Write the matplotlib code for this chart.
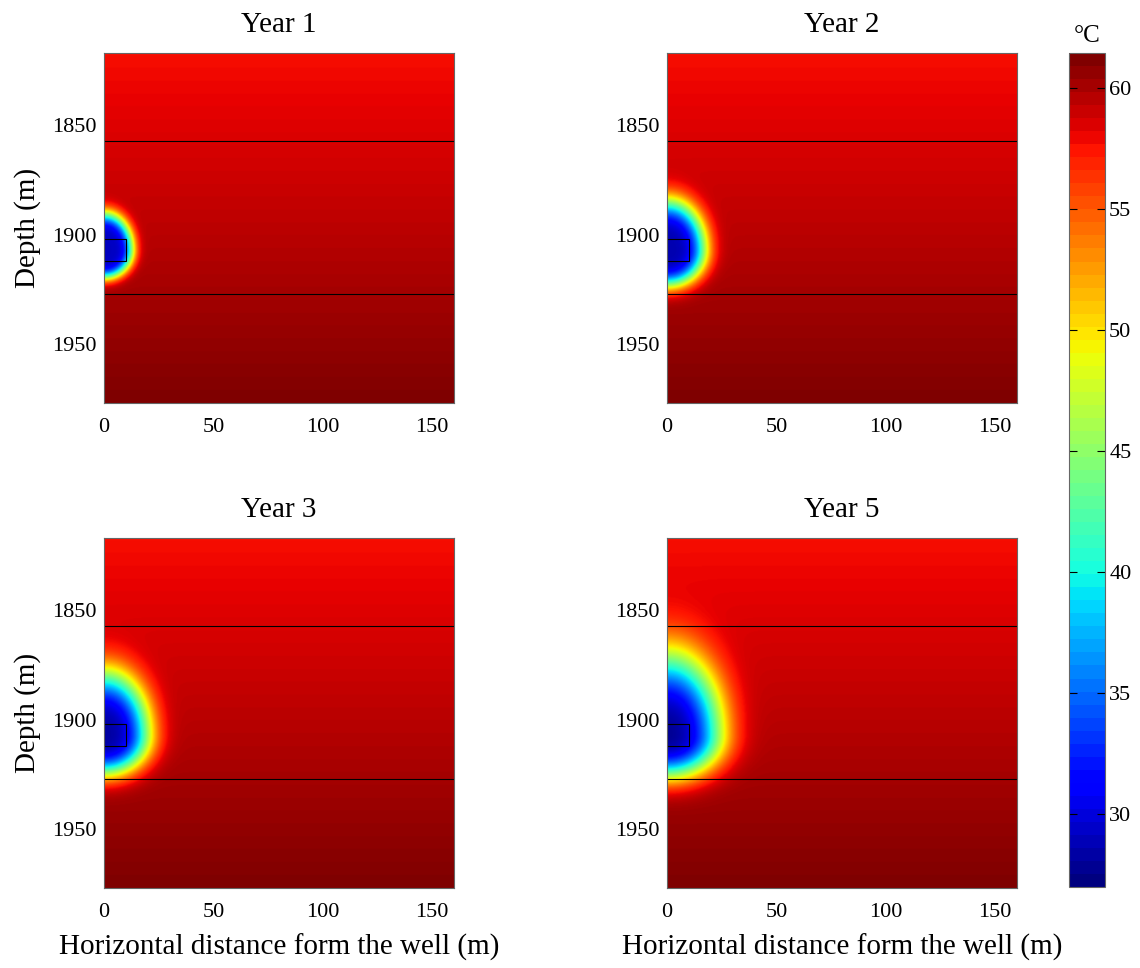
import math
import numpy as np
import matplotlib.pyplot as plt
from matplotlib.patches import Rectangle
from matplotlib.cm import ScalarMappable
from matplotlib.colors import Normalize

plt.rcParams['font.family'] = ['Liberation Serif', 'DejaVu Serif']

# snapshots of the cold front around the injection interval
years = ['Year 1', 'Year 2', 'Year 3', 'Year 5']
front_radius = [12.5, 16.5, 19.0, 22.5]   # m, mid-front distance (horizontal)
front_width = [4.0, 6.5, 9.0, 12.0]       # m, thickness of the thermal front
stretch_up = [1.3, 1.3, 1.4, 1.5]         # vertical spread above the well
stretch_down = [1.0, 0.95, 0.88, 0.78]    # vertical spread below the well
core_temp = [29.0, 28.5, 28.0, 27.5]      # degC, inside the injection zone

x_max = 160.0
z_top, z_bot = 1817.0, 1977.0
layer_tops = [1857.0, 1927.3]
inj_x = (0.0, 10.0)
inj_z = (1902.0, 1912.0)
t_top, t_bot = 57.8, 61.45                # degC geothermal profile
t_min, t_max = 27.0, 61.45
cbar_ticks = [30, 35, 40, 45, 50, 55, 60]
x_ticks = [0, 50, 100, 150]
z_ticks = [1850, 1900, 1950]

x = np.linspace(0, x_max, 481)
z = np.linspace(z_top, z_bot, 481)
X, Z = np.meshgrid(x, z)
T_bg = t_top + (Z - z_top) / (z_bot - z_top) * (t_bot - t_top)
zc = 0.5 * (inj_z[0] + inj_z[1])
erfc = np.vectorize(math.erfc)


def campo(i):
    dz = Z - zc
    s = np.where(dz < 0, stretch_up[i], stretch_down[i])
    rho = np.sqrt(X ** 2 + (dz / s) ** 2)
    g = 0.5 * erfc((rho - front_radius[i]) / front_width[i])
    return T_bg - (T_bg - core_temp[i]) * g


norm = Normalize(vmin=t_min, vmax=t_max)
fig = plt.figure(figsize=(11.4, 9.68), dpi=100)

W, H = 1140.0, 968.0
lefts = [104, 667]
tops = [53, 538]
aw, ah = 350, 350

for i, nombre in enumerate(years):
    fila, col = divmod(i, 2)
    l = lefts[col] / W
    b = 1 - (tops[fila] + ah) / H
    ax = fig.add_axes([l, b, aw / W, ah / H])
    ax.imshow(campo(i), extent=[0, x_max, z_bot, z_top], cmap='jet',
              norm=norm, aspect='auto', interpolation='bilinear')
    for zl in layer_tops:
        ax.axhline(zl, color='black', lw=0.8)
    ax.add_patch(Rectangle((inj_x[0], inj_z[0]), inj_x[1] - inj_x[0], inj_z[1] - inj_z[0],
                           fill=False, edgecolor='black', lw=0.8))
    ax.set_xlim(0, x_max)
    ax.set_ylim(z_bot, z_top)
    ax.set_xticks(x_ticks)
    ax.set_yticks(z_ticks)
    ax.tick_params(axis='both', length=0, labelsize=16)
    ax.tick_params(axis='x', pad=11)
    ax.tick_params(axis='y', pad=5)
    for sp in ax.spines.values():
        sp.set_color('#666666')
        sp.set_linewidth(0.8)
    ax.set_title(nombre, fontsize=21, pad=15)
    if col == 0:
        ax.set_ylabel('Depth (m)', fontsize=21, labelpad=8)
    if fila == 1:
        ax.set_xlabel('Horizontal distance form the well (m)', fontsize=21, labelpad=8)

# colour scale drawn with the 64-step jet table
cax = fig.add_axes([1069 / W, 1 - 887 / H, 36 / W, 834 / H])
sm = ScalarMappable(norm=norm, cmap=plt.get_cmap('jet', 64))
cb = fig.colorbar(sm, cax=cax, ticks=cbar_ticks)
cb.outline.set_edgecolor('#666666')
cb.outline.set_linewidth(0.8)
cax.tick_params(direction='in', length=6, width=0.8, left=True, right=True,
                labelsize=16, pad=3)
cax.set_title('°C', fontsize=18, pad=8)

plt.savefig('out.png', dpi=100)
